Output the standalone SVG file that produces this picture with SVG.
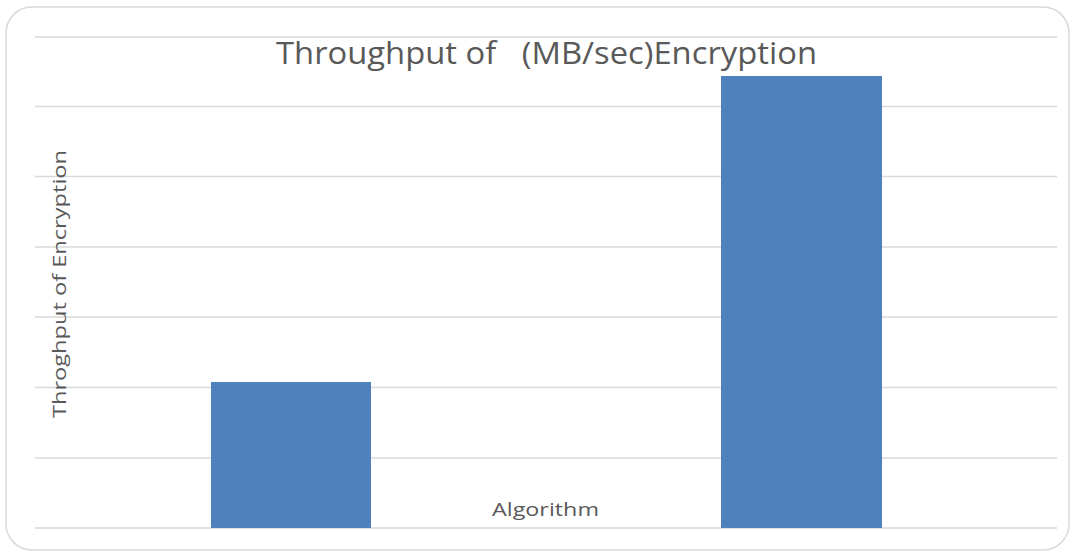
<svg xmlns="http://www.w3.org/2000/svg" width="1075" height="557" viewBox="0 0 1075 557">
<style>
.grid{stroke:#d9d9d9;stroke-width:1.5;fill:none}
.bar{fill:#4f81bd}
.t{font-family:"Open Sans","Liberation Sans",sans-serif;fill:#595959}
</style>
<rect x="0" y="0" width="1075" height="557" fill="#ffffff"/>
<rect x="6" y="7" width="1063" height="543" rx="26" ry="26" fill="#ffffff" stroke="#d9d9d9" stroke-width="1.5"/>
<g id="gridlines">
<line class="grid" x1="35" y1="37" x2="1057" y2="37"/>
<line class="grid" x1="35" y1="106.5" x2="1057" y2="106.5"/>
<line class="grid" x1="35" y1="176.5" x2="1057" y2="176.5"/>
<line class="grid" x1="35" y1="247" x2="1057" y2="247"/>
<line class="grid" x1="35" y1="317" x2="1057" y2="317"/>
<line class="grid" x1="35" y1="387.5" x2="1057" y2="387.5"/>
<line class="grid" x1="35" y1="458" x2="1057" y2="458"/>
<line class="grid" x1="35" y1="528" x2="1057" y2="528"/>
</g>
<g id="bar1"><rect class="bar" x="211" y="382" width="160" height="146"/></g>
<g id="bar2"><rect class="bar" x="721" y="76" width="161" height="452"/></g>
<g id="title"><text class="t" x="276" y="64" font-size="31" textLength="541" lengthAdjust="spacingAndGlyphs" xml:space="preserve">Throughput of   (MB/sec)Encryption</text></g>
<g id="ylabel"><text class="t" x="0" y="0" font-size="19" text-anchor="middle" textLength="268" lengthAdjust="spacingAndGlyphs" transform="translate(66,284) rotate(-90)">Throghput of Encryption</text></g>
<g id="xlabel"><text class="t" x="492" y="516" font-size="19" textLength="107" lengthAdjust="spacingAndGlyphs">Algorithm</text></g>
</svg>
